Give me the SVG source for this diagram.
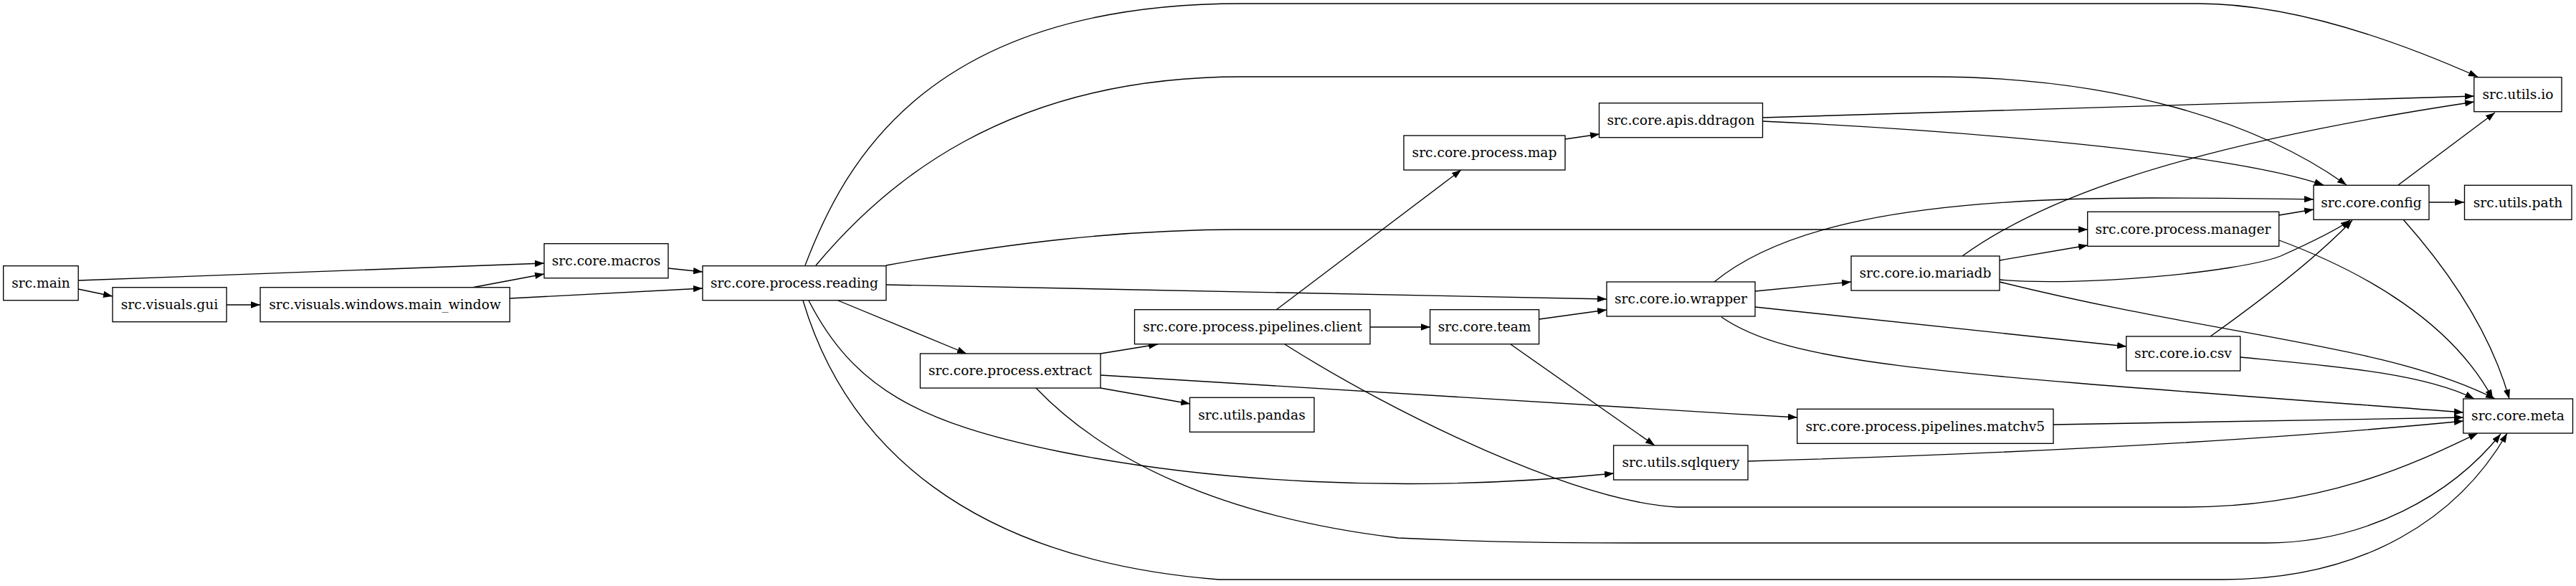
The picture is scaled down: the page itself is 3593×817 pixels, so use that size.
<svg xmlns="http://www.w3.org/2000/svg" width="3593" height="817" viewBox="0 0 3593 817">
<style>
.n rect{fill:#fff;stroke:#000;stroke-width:1.33}
.n text{font-family:"DejaVu Serif",serif;font-size:18.67px;text-anchor:middle;fill:#000}
#edges path{fill:none;stroke:#000;stroke-width:1.33;marker-end:url(#a)}
</style>
<defs>
<marker id="a" markerUnits="userSpaceOnUse" markerWidth="14" markerHeight="10" refX="13" refY="4.67" orient="auto"><path d="M0,0L13,4.67L0,9.33z" fill="#000"/></marker>
</defs>
<rect width="3593" height="817" fill="#fff"/>
<g id="edges">
<path d="M109,391L759,367"/>
<path d="M109,403L157,413"/>
<path d="M316,425L363,425"/>
<path d="M658,401L759,382"/>
<path d="M711,416L980,402"/>
<path d="M932,374L980,379"/>
<path d="M1123,370C1180,220 1300,5 1732,5L3066,5C3200,5 3350,60 3456,107"/>
<path d="M1138,370C1230,260 1400,107 1732,107L2693,107C2950,107 3150,170 3273,258"/>
<path d="M1236,370C1400,340 1560,320 1732,320L2912,320"/>
<path d="M1236,397L2241,417"/>
<path d="M1169,419L1348,493"/>
<path d="M1128,419C1190,540 1280,590 1480,630C1680,670 1950,690 2251,660"/>
<path d="M1120,419C1180,620 1350,780 1700,808L3100,808C3300,808 3430,720 3497,604"/>
<path d="M1535,493L1615,480"/>
<path d="M1535,541L1660,563"/>
<path d="M1535,523C1900,545 2200,565 2507,582"/>
<path d="M1445,541C1540,640 1700,720 1950,750C2100,757 2200,757 2316,757L3160,757C3300,757 3420,690 3488,605"/>
<path d="M1780,432L2038,237"/>
<path d="M1911,456L1995,456"/>
<path d="M1792,480C1950,580 2200,700 2340,707L3050,707C3250,707 3380,640 3456,604"/>
<path d="M2183,194L2231,187"/>
<path d="M2458,164L3451,134"/>
<path d="M2458,169C2700,180 3100,210 3241,258"/>
<path d="M2147,445L2241,432"/>
<path d="M2107,480L2308,621"/>
<path d="M2448,406L2582,393"/>
<path d="M2391,393C2480,320 2650,276 3000,276C3100,276 3180,277 3227,278"/>
<path d="M2448,428L2966,483"/>
<path d="M2401,442C2500,510 2700,520 3436,575"/>
<path d="M2737,357C2830,290 3000,210 3451,142"/>
<path d="M2789,363L2912,342"/>
<path d="M2789,390C2900,400 3120,380 3181,357C3230,335 3260,320 3278,307"/>
<path d="M2789,393C3100,470 3330,480 3480,556"/>
<path d="M3179,300L3227,292"/>
<path d="M3179,335C3300,380 3420,450 3477,556"/>
<path d="M3083,469C3180,400 3240,350 3281,307"/>
<path d="M3125,498C3250,510 3380,520 3451,556"/>
<path d="M3345,258L3480,157"/>
<path d="M3388,282L3437,282"/>
<path d="M3352,306C3400,360 3470,450 3500,556"/>
<path d="M2864,592L3436,582"/>
<path d="M2438,643C2900,630 3200,610 3436,587"/>
</g>
<g id="n_main" class="n"><rect x="4.7" y="370.7" width="104.5" height="48"/><text x="57" y="401">src.main</text></g>
<g id="n_gui" class="n"><rect x="157" y="400.7" width="159" height="48"/><text x="236.5" y="431">src.visuals.gui</text></g>
<g id="n_mainwindow" class="n"><rect x="363" y="400.7" width="348" height="48"/><text x="537" y="431">src.visuals.windows.main_window</text></g>
<g id="n_macros" class="n"><rect x="759" y="339.7" width="173" height="48"/><text x="845.5" y="370">src.core.macros</text></g>
<g id="n_reading" class="n"><rect x="980" y="370.7" width="256" height="48"/><text x="1108" y="401">src.core.process.reading</text></g>
<g id="n_extract" class="n"><rect x="1283.5" y="493" width="251.5" height="48"/><text x="1409" y="523">src.core.process.extract</text></g>
<g id="n_client" class="n"><rect x="1582.5" y="431.7" width="328.5" height="48"/><text x="1747" y="462">src.core.process.pipelines.client</text></g>
<g id="n_pandas" class="n"><rect x="1659.5" y="554.3" width="173.5" height="48"/><text x="1746" y="585">src.utils.pandas</text></g>
<g id="n_map" class="n"><rect x="1958" y="189" width="225" height="48"/><text x="2070.5" y="219">src.core.process.map</text></g>
<g id="n_ddragon" class="n"><rect x="2230.5" y="143.7" width="228" height="48"/><text x="2344.5" y="174">src.core.apis.ddragon</text></g>
<g id="n_team" class="n"><rect x="1994.6" y="431.7" width="152" height="48"/><text x="2070.6" y="462">src.core.team</text></g>
<g id="n_wrapper" class="n"><rect x="2241" y="393" width="207" height="48"/><text x="2344.5" y="423">src.core.io.wrapper</text></g>
<g id="n_mariadb" class="n"><rect x="2582" y="357" width="207" height="48"/><text x="2685.5" y="387">src.core.io.mariadb</text></g>
<g id="n_sqlquery" class="n"><rect x="2250.6" y="621" width="187.4" height="48"/><text x="2344.3" y="651">src.utils.sqlquery</text></g>
<g id="n_matchv5" class="n"><rect x="2506.7" y="570.3" width="357.3" height="48"/><text x="2685.3" y="601">src.core.process.pipelines.matchv5</text></g>
<g id="n_utilsio" class="n"><rect x="3450.8" y="107.7" width="122.2" height="48"/><text x="3512" y="138">src.utils.io</text></g>
<g id="n_config" class="n"><rect x="3227" y="258.3" width="161" height="48"/><text x="3307.5" y="289">src.core.config</text></g>
<g id="n_path" class="n"><rect x="3437.5" y="258.3" width="149.5" height="48"/><text x="3512" y="289">src.utils.path</text></g>
<g id="n_manager" class="n"><rect x="2911.7" y="295.3" width="267" height="48"/><text x="3045" y="326">src.core.process.manager</text></g>
<g id="n_csv" class="n"><rect x="2965.7" y="469" width="159" height="48"/><text x="3045" y="499">src.core.io.csv</text></g>
<g id="n_meta" class="n"><rect x="3435.8" y="556" width="152.7" height="48"/><text x="3512" y="586">src.core.meta</text></g>
</svg>
